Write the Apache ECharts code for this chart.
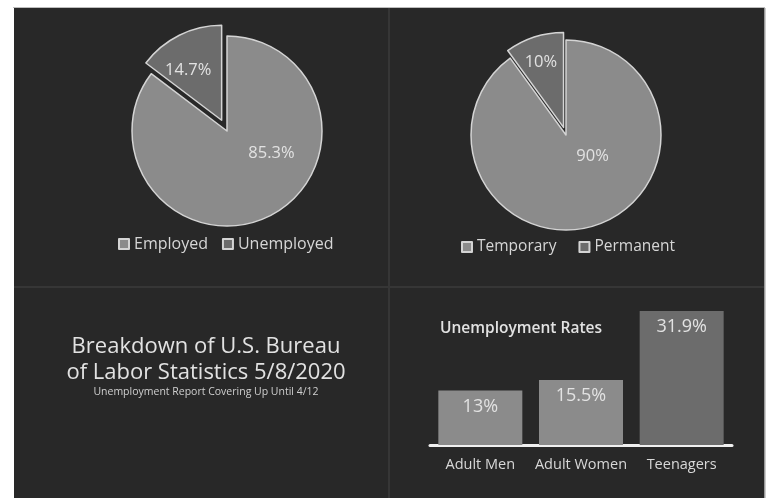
<!DOCTYPE html>
<html>
<head>
<meta charset="utf-8">
<script src="https://cdn.jsdelivr.net/npm/echarts@6/dist/echarts.min.js"></script>
<style>
html,body{margin:0;padding:0;background:#fff;}
#c{width:775px;height:498px;}
</style>
</head>
<body>
<div id="c"></div>
<script>
// ---- data ----
const empNames = ['Employed', 'Unemployed'];
const empValues = [85.3, 14.7];
const tempNames = ['Temporary', 'Permanent'];
const tempValues = [90, 10];
const barCategories = ['Adult Men', 'Adult Women', 'Teenagers'];
const barValues = [13, 15.5, 31.9];
const titleLines = ['Breakdown of U.S. Bureau', 'of Labor Statistics 5/8/2020'];
const subtitleText = 'Unemployment Report Covering Up Until 4/12';
const barTitle = 'Unemployment Rates';

// ---- styles ----
const BG = '#282828';
const LIGHT = '#8b8b8b';
const DARK = '#6c6c6c';
const TXT = '#e2e2e2';
const FONT = '"Open Sans", sans-serif';

const chart = echarts.init(document.getElementById('c'));

function pieData(names, values, colors, offsets, selectedIdx) {
  return names.map((n, i) => ({
    name: n,
    value: values[i],
    selected: i === selectedIdx,
    itemStyle: { color: colors[i] },
    label: { offset: offsets[i] },
    select: { label: { offset: offsets[i] } }
  }));
}

const pieCommon = {
  type: 'pie',
  radius: 95,
  startAngle: 90,
  clockwise: true,
  selectedMode: 'single',
  animation: false,
  itemStyle: { borderColor: '#d4d4d4', borderWidth: 1.5 },
  label: {
    show: true,
    position: 'inside',
    formatter: '{c}%',
    color: TXT,
    fontSize: 16.5,
    fontFamily: FONT
  },
  labelLine: { show: false },
  emphasis: { disabled: true }
};

const option = {
  backgroundColor: '#ffffff',
  animation: false,
  graphic: [
    { type: 'rect', z: -10, shape: { x: 14, y: 8, width: 750, height: 490 }, style: { fill: BG } },
    { type: 'rect', z: -10, shape: { x: 13, y: 7, width: 752, height: 1 }, style: { fill: '#bdbdbd' } },
    { type: 'rect', z: -10, shape: { x: 764, y: 8, width: 1.5, height: 490 }, style: { fill: '#9a9a9a' } },
    { type: 'rect', z: -9, shape: { x: 388, y: 8, width: 2, height: 490 }, style: { fill: '#363636' } },
    { type: 'rect', z: -9, shape: { x: 14, y: 286, width: 750, height: 2 }, style: { fill: '#363636' } },
    {
      type: 'text', z: 5,
      style: {
        x: 206, y: 347, text: titleLines[0], fill: TXT, font: '22px ' + FONT,
        align: 'center', verticalAlign: 'middle'
      }
    },
    {
      type: 'text', z: 5,
      style: {
        x: 206, y: 373, text: titleLines[1], fill: TXT, font: '22px ' + FONT,
        align: 'center', verticalAlign: 'middle'
      }
    },
    {
      type: 'text', z: 5,
      style: {
        x: 206, y: 392, text: subtitleText, fill: '#cfcfcf', font: '10.5px ' + FONT,
        align: 'center', verticalAlign: 'middle'
      }
    },
    {
      type: 'text', z: 5,
      style: {
        x: 440, y: 329, text: barTitle, fill: TXT, font: '600 15.5px ' + FONT,
        align: 'left', verticalAlign: 'middle'
      }
    }
  ],
  legend: [
    {
      data: empNames, left: 113, top: 231, itemWidth: 10, itemHeight: 10, itemGap: 14,
      icon: 'rect',
      textStyle: { color: '#d6d6d6', fontSize: 16, fontFamily: FONT },
      selectedMode: false
    },
    {
      data: tempNames, left: 456, top: 234, itemWidth: 10, itemHeight: 10, itemGap: 22,
      icon: 'rect',
      textStyle: { color: '#d6d6d6', fontSize: 15.5, fontFamily: FONT },
      selectedMode: false
    }
  ],
  grid: { left: 430, right: 43, top: 298, bottom: 53, containLabel: false },
  xAxis: {
    type: 'category',
    data: barCategories,
    axisLine: { lineStyle: { color: '#f0f0f0', width: 3 } },
    axisTick: { show: false },
    axisLabel: { color: '#d8d8d8', fontSize: 14.5, fontFamily: FONT, margin: 12, interval: 0 }
  },
  yAxis: {
    type: 'value', min: 0, max: 35,
    show: false,
    splitLine: { show: false }
  },
  series: [
    Object.assign({}, pieCommon, {
      center: [227, 131],
      selectedOffset: 12,
      data: pieData(empNames, empValues, [LIGHT, DARK], [[22, -23], [-11, -5]], 1)
    }),
    Object.assign({}, pieCommon, {
      center: [566, 135],
      selectedOffset: 8,
      data: pieData(tempNames, tempValues, [LIGHT, DARK], [[11, -27], [-7, -17]], 1)
    }),
    {
      type: 'bar',
      barWidth: 84,
      data: barValues.map((v, i) => ({
        value: v,
        itemStyle: { color: i === 2 ? DARK : LIGHT }
      })),
      label: {
        show: true, position: 'insideTop', distance: 7,
        formatter: '{c}%', color: TXT, fontSize: 18, fontFamily: FONT
      },
      emphasis: { disabled: true }
    }
  ]
};
chart.setOption(option);
</script>
</body>
</html>
